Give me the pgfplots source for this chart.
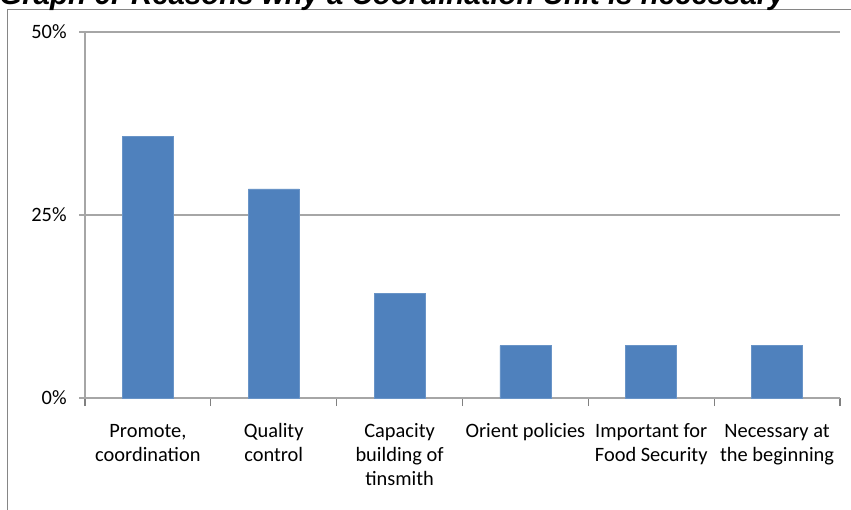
\documentclass[border=0pt]{standalone}
\usepackage{pgfplots}
\pgfplotsset{compat=1.18}
\usepackage{fontspec}
\setmainfont{Carlito}
\newfontfamily\titlefont{Liberation Sans}
\definecolor{barblue}{HTML}{4F81BD}
\definecolor{gridgray}{HTML}{A6A6A6}
\definecolor{framegray}{HTML}{868686}
\begin{document}
\begin{tikzpicture}
\clip (0,0) rectangle (425.5pt,-254.5pt);
\fill[white] (0,0) rectangle (425.5pt,-254.5pt);
\draw[framegray, line width=0.75pt] (3.75pt,-260pt) -- (3.75pt,-4.75pt) -- (430pt,-4.75pt);
\node[anchor=base west, inner sep=0pt, font=\titlefont\bfseries\itshape\fontsize{14.7}{17}\selectfont] at (-0.5pt,-2pt) {Graph 6: Reasons why a Coordination Unit is necessary};
\begin{axis}[
  at={(42.5pt,-199pt)}, anchor=south west,
  scale only axis, width=377.5pt, height=183pt,
  xmin=-0.5, xmax=5.5, ymin=0, ymax=50,
  axis x line*=bottom, axis y line*=left,
  axis line style={gridgray, line width=0.75pt, -},
  xtick={0,1,2,3,4,5},
  xticklabels={{\strut Promote,\\coordination},{\strut Quality\\control},{\strut Capacity\\building of\\tinsmith},{\strut Orient policies},{\strut Important for\\Food Security},{\strut Necessary at\\the beginning}},
  major x tick style={draw=none},
  minor xtick={-0.5,0.5,1.5,2.5,3.5,4.5,5.5},
  minor x tick style={gray, line width=0.6pt},
  minor tick length=4pt,
  major tick length=3pt,
  tick align=outside,
  ytick={0,25,50},
  yticklabels={0\%,25\%,50\%},
  major y tick style={gridgray, line width=0.6pt},
  ymajorgrids,
  grid style={gridgray, line width=0.6pt},
  xticklabel style={align=center, font=\fontsize{10.2}{12}\selectfont, anchor=north, inner sep=0pt, yshift=-8pt},
  yticklabel style={font=\fontsize{10.2}{12}\selectfont, anchor=east, inner sep=0pt, xshift=-6pt},
  ybar, bar width=25.5pt,
]
\addplot[fill=barblue, draw=barblue!85!white, line width=0.3pt] coordinates {(0,35.714) (1,28.571) (2,14.286) (3,7.143) (4,7.143) (5,7.143)};
\end{axis}
\end{tikzpicture}
\end{document}
